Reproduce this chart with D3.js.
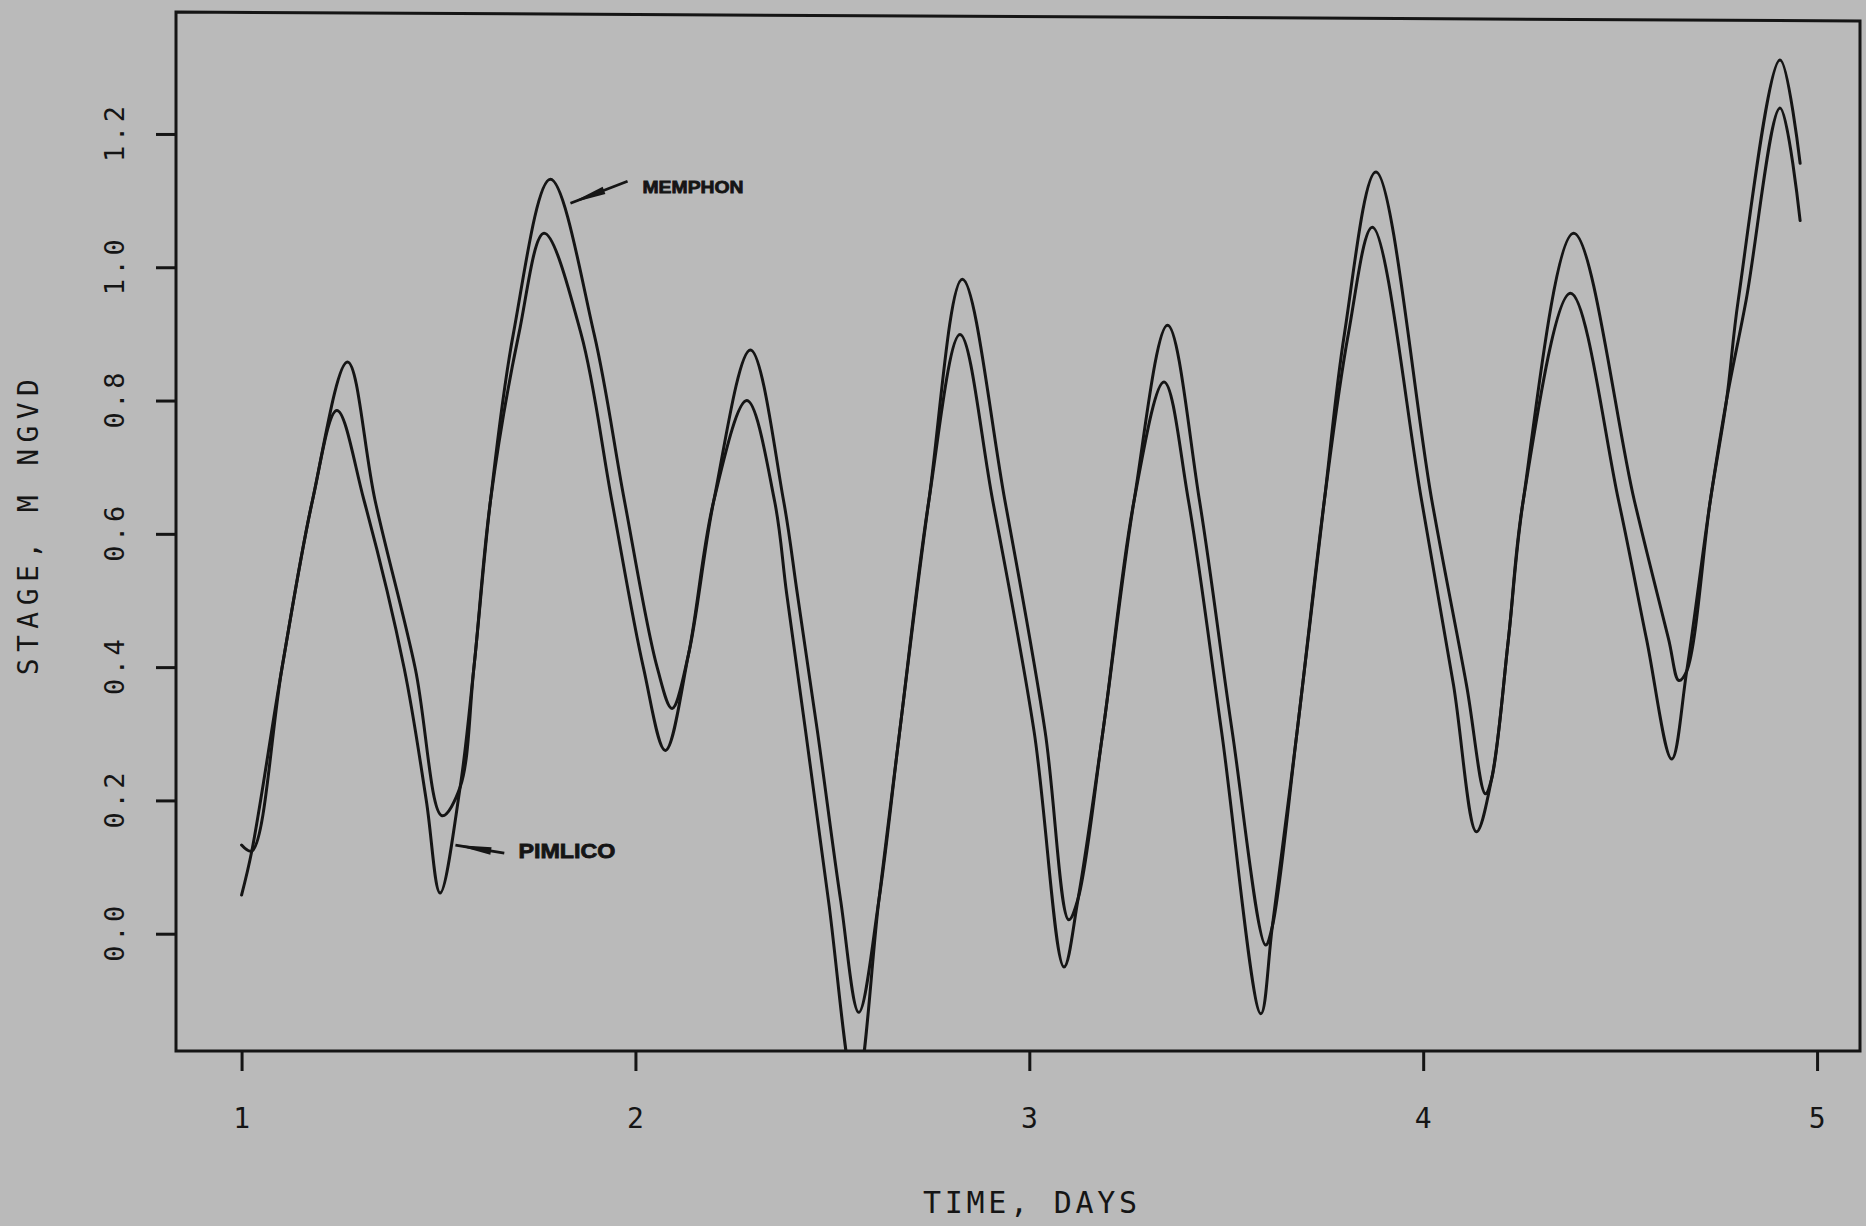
<!DOCTYPE html>
<html>
<head>
<meta charset="utf-8">
<script src="https://cdn.jsdelivr.net/npm/d3@7"></script>
<style>
  html, body { margin: 0; padding: 0; background: #bababa; }
  svg { display: block; }
</style>
</head>
<body>
<script>
// Tidal stage at two stations over four days
const dayTicks = [1, 2, 3, 4, 5];
const stageTicks = [0.0, 0.2, 0.4, 0.6, 0.8, 1.0, 1.2];
const stageTickLabels = ["0.0", "0.2", "0.4", "0.6", "0.8", "1.0", "1.2"];

const memphonDay = [
  1.000, 1.026, 1.103, 1.180, 1.269, 1.339, 1.441, 1.509, 1.555, 1.590,
  1.632, 1.690, 1.784, 1.895, 1.972, 2.055, 2.093, 2.135, 2.199, 2.292,
  2.376, 2.411, 2.462, 2.521, 2.567, 2.618, 2.671, 2.745, 2.830, 2.938,
  3.040, 3.100, 3.124, 3.187, 3.266, 3.351, 3.432, 3.515, 3.600, 3.617,
  3.680, 3.749, 3.800, 3.880, 4.022, 4.110, 4.158, 4.174, 4.216, 4.254,
  4.382, 4.536, 4.623, 4.649, 4.669, 4.729, 4.770, 4.800, 4.906, 4.957
];
const memphonStage = [
  0.133, 0.124, 0.400, 0.650, 0.858, 0.650, 0.398, 0.177, 0.220, 0.400,
  0.650, 0.900, 1.132, 0.900, 0.650, 0.400, 0.338, 0.420, 0.650, 0.876,
  0.650, 0.510, 0.304, 0.050, -0.118, 0.050, 0.304, 0.650, 0.982, 0.650,
  0.304, 0.021, 0.053, 0.304, 0.650, 0.913, 0.650, 0.304, -0.017, 0.011,
  0.304, 0.650, 0.900, 1.143, 0.650, 0.373, 0.210, 0.233, 0.440, 0.650,
  1.051, 0.650, 0.442, 0.380, 0.394, 0.650, 0.800, 0.951, 1.311, 1.156
];

const pimlicoDay = [
  1.000, 1.026, 1.103, 1.180, 1.242, 1.311, 1.413, 1.469, 1.504, 1.555,
  1.590, 1.632, 1.704, 1.768, 1.862, 1.940, 2.020, 2.076, 2.135, 2.199,
  2.283, 2.353, 2.384, 2.432, 2.490, 2.559, 2.618, 2.671, 2.745, 2.824,
  2.907, 3.012, 3.088, 3.124, 3.187, 3.266, 3.342, 3.404, 3.488, 3.588,
  3.617, 3.680, 3.749, 3.810, 3.871, 3.996, 4.077, 4.135, 4.174, 4.216,
  4.254, 4.374, 4.496, 4.567, 4.631, 4.669, 4.729, 4.770, 4.820, 4.906,
  4.957
];
const pimlicoStage = [
  0.058, 0.124, 0.400, 0.650, 0.785, 0.650, 0.398, 0.200, 0.061, 0.220,
  0.400, 0.650, 0.900, 1.051, 0.900, 0.650, 0.400, 0.275, 0.420, 0.650,
  0.800, 0.650, 0.510, 0.304, 0.050, -0.240, 0.050, 0.304, 0.650, 0.899,
  0.650, 0.304, -0.050, 0.053, 0.304, 0.650, 0.828, 0.650, 0.304, -0.120,
  0.011, 0.304, 0.650, 0.900, 1.060, 0.650, 0.373, 0.153, 0.233, 0.440,
  0.650, 0.961, 0.650, 0.442, 0.262, 0.394, 0.650, 0.800, 0.951, 1.239,
  1.070
];

// Station labels: text anchor, pointer start and the point on the curve the pointer touches
const labelNames = ["MEMPHON", "PIMLICO"];
const labelTextDay = [2.018, 1.703];
const labelTextStage = [1.120, 0.125];
const labelFromDay = [1.980, 1.667];
const labelFromStage = [1.129, 0.121];
const labelTipDay = [1.835, 1.543];
const labelTipStage = [1.096, 0.133];
const labelFontSize = [17, 20];
const labelWidth = [101, 97];

// ---- layout ----
const W = 1866, H = 1226;
const plot = { left: 176, right: 1860, top: 14, bottom: 1051 };
const frameSkew = 9;   // the top edge of the frame drops slightly toward the right
const ink = "#151515";

const svg = d3.select("body").append("svg")
  .attr("width", W).attr("height", H);

svg.append("rect").attr("width", W).attr("height", H).attr("fill", "#bababa");

const x = d3.scaleLinear().domain([0.831, 5.109]).range([175, 1860]);
const y = d3.scaleLinear().domain([-0.176, 1.38]).range([plot.bottom, plot.top]);

// clip for curves
svg.append("defs").append("clipPath").attr("id", "plotClip")
  .append("rect")
  .attr("x", plot.left).attr("y", plot.top)
  .attr("width", plot.right - plot.left).attr("height", plot.bottom - plot.top);

// ---- axes ----
const xAxis = d3.axisBottom(x).tickValues(dayTicks).tickSize(20).tickPadding(0).tickFormat(() => "");
const gx = svg.append("g").attr("transform", `translate(0,${plot.bottom})`).call(xAxis);
gx.select(".domain").remove();
gx.selectAll(".tick line").attr("stroke", ink).attr("stroke-width", 3);

const yAxis = d3.axisLeft(y).tickValues(stageTicks).tickSize(20).tickFormat(() => "");
const gy = svg.append("g").attr("transform", `translate(${plot.left},0)`).call(yAxis);
gy.select(".domain").remove();
gy.selectAll(".tick line").attr("stroke", ink).attr("stroke-width", 3);

const axisFont = "'DejaVu Sans Mono', 'Liberation Mono', monospace";

// x tick labels
svg.append("g").selectAll("text").data(dayTicks).join("text")
  .attr("x", d => x(d))
  .attr("y", 1128)
  .attr("text-anchor", "middle")
  .attr("font-family", axisFont)
  .attr("font-size", 28)
  .attr("fill", ink)
  .text(d => d);

// y tick labels (rotated)
svg.append("g").selectAll("text").data(stageTicks).join("text")
  .attr("transform", d => `translate(124,${y(d)}) rotate(-90)`)
  .attr("text-anchor", "middle")
  .attr("font-family", axisFont)
  .attr("font-size", 27)
  .attr("textLength", 56)
  .attr("lengthAdjust", "spacing")
  .attr("fill", ink)
  .text((d, i) => stageTickLabels[i]);

// axis titles
svg.append("text")
  .attr("x", 1030).attr("y", 1213)
  .attr("text-anchor", "middle")
  .attr("font-family", axisFont)
  .attr("font-size", 30)
  .attr("textLength", 214)
  .attr("lengthAdjust", "spacing")
  .attr("fill", ink)
  .text("TIME, DAYS");

svg.append("text")
  .attr("transform", `translate(38,${y(0.61)}) rotate(-90)`)
  .attr("text-anchor", "middle")
  .attr("font-family", axisFont)
  .attr("font-size", 28)
  .attr("textLength", 296)
  .attr("lengthAdjust", "spacing")
  .attr("fill", ink)
  .text("STAGE, M NGVD");

// ---- frame ----
svg.append("path")
  .attr("d", `M${plot.left},${plot.top - 2} L${plot.right},${plot.top - 2 + frameSkew} L${plot.right},${plot.bottom} L${plot.left},${plot.bottom} Z`)
  .attr("fill", "none")
  .attr("stroke", ink)
  .attr("stroke-width", 3);

// ---- curves ----
const line = d3.line()
  .x(d => x(d[0]))
  .y(d => y(d[1]))
  .curve(d3.curveCatmullRom.alpha(0.5));

const series = [
  d3.zip(memphonDay, memphonStage),
  d3.zip(pimlicoDay, pimlicoStage)
];

svg.append("g").attr("clip-path", "url(#plotClip)")
  .selectAll("path").data(series).join("path")
  .attr("d", line)
  .attr("fill", "none")
  .attr("stroke", ink)
  .attr("stroke-width", 3)
  .attr("stroke-linejoin", "round")
  .attr("stroke-linecap", "round");

// ---- station labels with pointers ----
const labelFont = "'Liberation Sans', Arial, sans-serif";
labelNames.forEach((name, i) => {
  const tx = x(labelTextDay[i]), ty = y(labelTextStage[i]);
  const sx = x(labelFromDay[i]), sy = y(labelFromStage[i]);
  const px = x(labelTipDay[i]), py = y(labelTipStage[i]);
  const dx = sx - px, dy = sy - py;
  const len = Math.hypot(dx, dy);
  const ux = dx / len, uy = dy / len;
  const bx = px + ux * 36, by = py + uy * 36;
  const nx = -uy * 3.8, ny = ux * 3.8;

  svg.append("line")
    .attr("x1", sx).attr("y1", sy).attr("x2", px).attr("y2", py)
    .attr("stroke", ink).attr("stroke-width", 2.8);
  svg.append("path")
    .attr("d", `M${px},${py} L${bx + nx},${by + ny} L${bx - nx},${by - ny} Z`)
    .attr("fill", ink);

  svg.append("text")
    .attr("x", tx).attr("y", ty + labelFontSize[i] * 0.36)
    .attr("font-family", labelFont)
    .attr("font-weight", 900)
    .attr("font-size", labelFontSize[i])
    .attr("textLength", labelWidth[i])
    .attr("lengthAdjust", "spacingAndGlyphs")
    .attr("fill", ink)
    .attr("stroke", ink)
    .attr("stroke-width", 0.8)
    .text(name);
});
</script>
</body>
</html>
